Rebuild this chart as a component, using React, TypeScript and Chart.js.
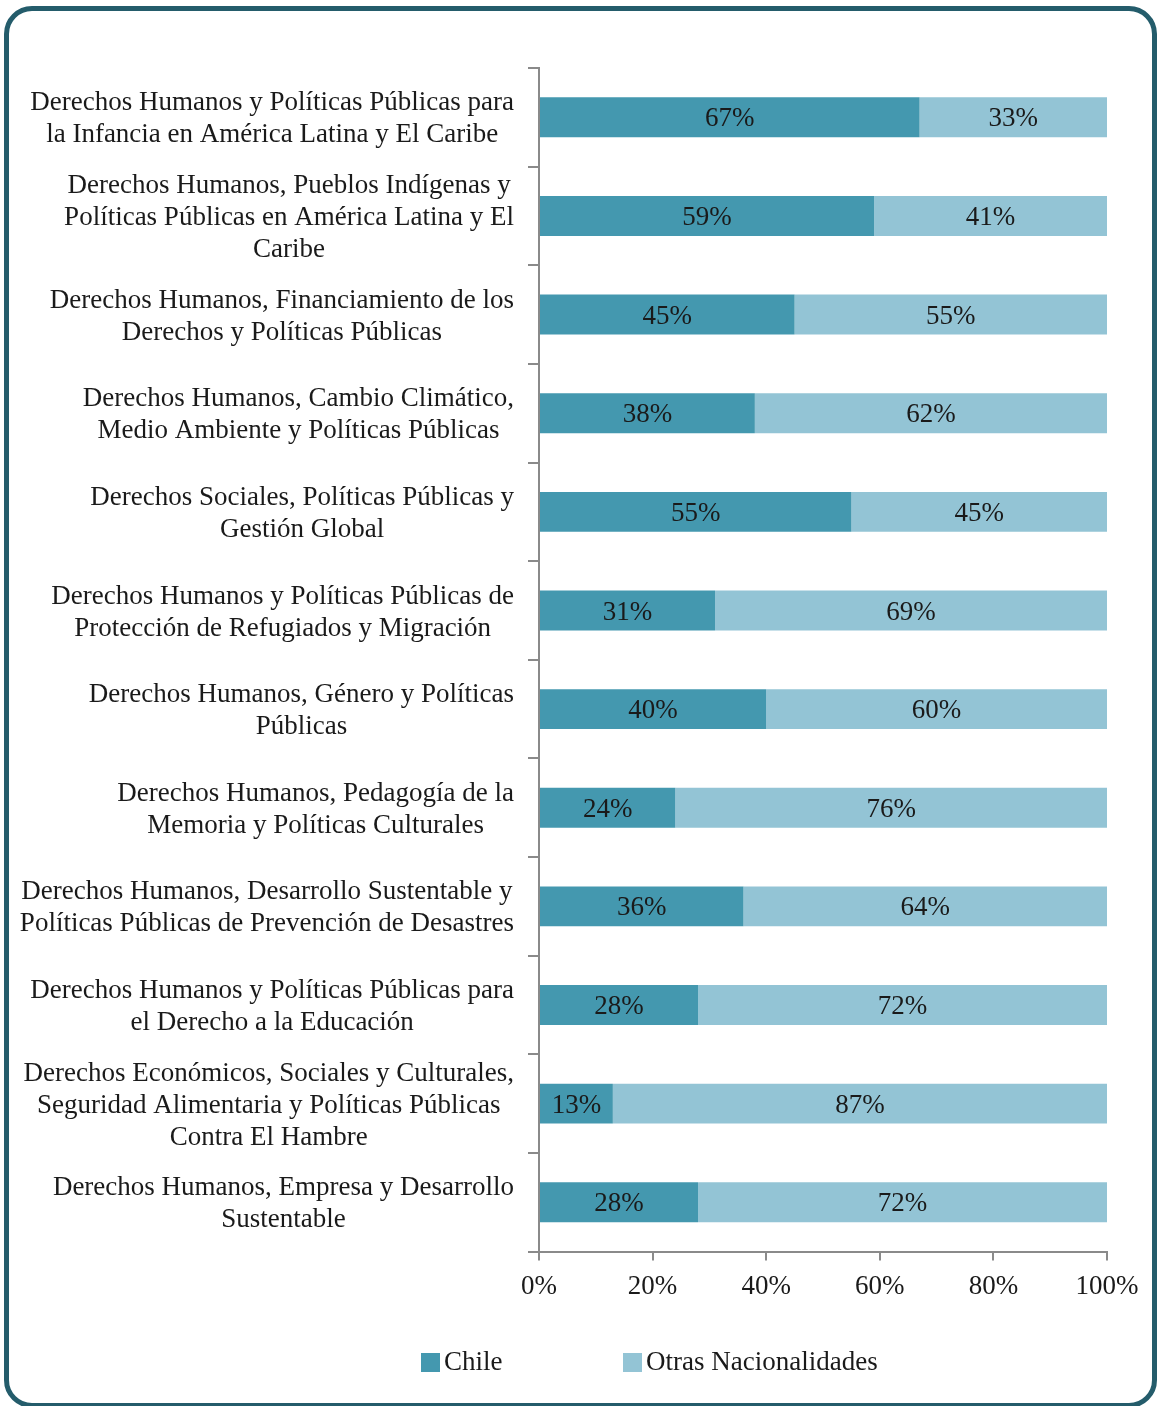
import React, { useEffect, useRef } from "react";
import { Chart, registerables } from "chart.js";

Chart.register(...registerables);

const categories: string[][] = [
  ["Derechos Humanos y Políticas Públicas para", "la Infancia en América Latina y El Caribe"],
  ["Derechos Humanos, Pueblos Indígenas y", "Políticas Públicas en América Latina y El", "Caribe"],
  ["Derechos Humanos, Financiamiento de los", "Derechos y Políticas Públicas"],
  ["Derechos Humanos, Cambio Climático,", "Medio Ambiente y Políticas Públicas"],
  ["Derechos Sociales, Políticas Públicas y", "Gestión Global"],
  ["Derechos Humanos y Políticas Públicas de", "Protección de Refugiados y Migración"],
  ["Derechos Humanos, Género y Políticas", "Públicas"],
  ["Derechos Humanos, Pedagogía de la", "Memoria y Políticas Culturales"],
  ["Derechos Humanos, Desarrollo Sustentable y", "Políticas Públicas de Prevención de Desastres"],
  ["Derechos Humanos y Políticas Públicas para", "el Derecho a la Educación"],
  ["Derechos Económicos, Sociales y Culturales,", "Seguridad Alimentaria y Políticas Públicas", "Contra El Hambre"],
  ["Derechos Humanos, Empresa y Desarrollo", "Sustentable"],
];

const chileValues: number[] = [67, 59, 45, 38, 55, 31, 40, 24, 36, 28, 13, 28];
const otrasValues: number[] = [33, 41, 55, 62, 45, 69, 60, 76, 64, 72, 87, 72];

const seriesNames: string[] = ["Chile", "Otras Nacionalidades"];
const seriesColors: string[] = ["#4498AF", "#93C4D5"];
const xTicks: number[] = [0, 20, 40, 60, 80, 100];

const FONT = "'Liberation Serif', 'Times New Roman', serif";
const TEXT = "#1a1a1a";
const AXIS = "#8a8a8a";

const customPlugin = {
  id: "custom",
  afterDatasetsDraw(chart: any) {
    const ctx = chart.ctx;
    ctx.save();
    // data labels
    ctx.font = `27px ${FONT}`;
    ctx.fillStyle = TEXT;
    ctx.textAlign = "center";
    ctx.textBaseline = "middle";
    chart.data.datasets.forEach((ds: any, di: number) => {
      const meta = chart.getDatasetMeta(di);
      meta.data.forEach((bar: any, i: number) => {
        const p = bar.getProps(["x", "y", "base"], true);
        const cx = (p.x + p.base) / 2;
        ctx.fillText(`${ds.data[i]}%`, cx, p.y + 2);
      });
    });
    // y labels, each block centered on its widest line and right-aligned
    const yScale = chart.scales.y;
    ctx.font = `27px ${FONT}`;
    const right = 514;
    const lh = 32;
    categories.forEach((lines, i) => {
      const cy = yScale.getPixelForValue(i) + 2;
      const maxW = Math.max(...lines.map((l) => ctx.measureText(l).width));
      const cx = right - maxW / 2;
      const startY = cy - ((lines.length - 1) * lh) / 2;
      lines.forEach((l, j) => ctx.fillText(l, cx, startY + j * lh));
    });
    // legend
    const legendY = 1362;
    const items = [
      { x: 421, name: seriesNames[0], color: seriesColors[0] },
      { x: 623, name: seriesNames[1], color: seriesColors[1] },
    ];
    ctx.textAlign = "left";
    items.forEach((it) => {
      ctx.fillStyle = it.color;
      ctx.fillRect(it.x, legendY - 9, 19, 19);
      ctx.fillStyle = TEXT;
      ctx.fillText(it.name, it.x + 23, legendY + 1);
    });
    ctx.restore();
  },
};

export default function App() {
  const ref = useRef<HTMLCanvasElement | null>(null);
  useEffect(() => {
    if (!ref.current) return;
    const chart = new Chart(ref.current, {
      type: "bar",
      data: {
        labels: categories.map((c) => c.join(" ")),
        datasets: [
          { label: seriesNames[0], data: chileValues, backgroundColor: seriesColors[0], barPercentage: 0.405, categoryPercentage: 1 },
          { label: seriesNames[1], data: otrasValues, backgroundColor: seriesColors[1], barPercentage: 0.405, categoryPercentage: 1 },
        ],
      },
      options: {
        indexAxis: "y",
        responsive: false,
        animation: false,
        layout: { padding: { left: 528, right: 52, top: 68, bottom: 93 } },
        plugins: { legend: { display: false }, tooltip: { enabled: false } },
        scales: {
          x: {
            stacked: true,
            min: 0,
            max: 100,
            afterBuildTicks: (scale: any) => {
              scale.ticks = xTicks.map((v) => ({ value: v }));
            },
            ticks: {
              callback: (v: any) => `${v}%`,
              font: { family: FONT, size: 27 },
              color: TEXT,
              padding: 10,
              maxRotation: 0,
            },
            grid: { drawOnChartArea: false, drawTicks: true, tickLength: 9, color: AXIS, lineWidth: 2 },
            border: { display: true, color: AXIS, width: 2 },
          },
          y: {
            stacked: true,
            ticks: { display: false },
            grid: { drawOnChartArea: false, drawTicks: true, tickLength: 11, color: AXIS, lineWidth: 2, offset: true },
            border: { display: true, color: AXIS, width: 2 },
          },
        },
      },
      plugins: [customPlugin],
    } as any);
    return () => chart.destroy();
  }, []);

  return (
    <div style={{ position: "fixed", left: 0, top: 0, width: 1159, height: 1406, overflow: "hidden", background: "#fff" }}>
      <canvas ref={ref} width={1159} height={1406} style={{ position: "absolute", left: 0, top: 0, width: 1159, height: 1406 }} />
      <div
        style={{
          position: "absolute",
          left: 4,
          top: 6,
          width: 1153,
          height: 1402,
          border: "5px solid #245C6B",
          borderRadius: 28,
          boxSizing: "border-box",
          pointerEvents: "none",
        }}
      />
    </div>
  );
}
